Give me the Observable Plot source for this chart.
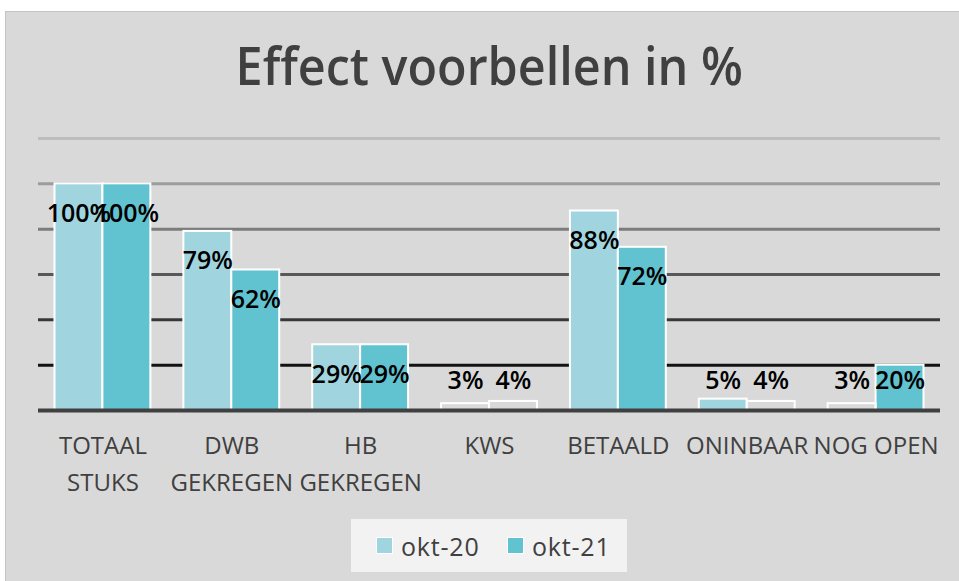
<!DOCTYPE html>
<html>
<head>
<meta charset="utf-8">
<script src="https://cdn.jsdelivr.net/npm/d3@7"></script>
<script src="https://cdn.jsdelivr.net/npm/@observablehq/plot@0.6"></script>
<style>
  html, body { margin: 0; padding: 0; background: #ffffff; }
  body { width: 959px; height: 581px; position: relative; overflow: hidden; font-family: "Open Sans", sans-serif; }
  #frame { position: absolute; left: 5px; top: 11px; width: 954px; height: 570px; background: #d9d9d9; border-top: 1px solid #c4c4c4; border-left: 1px solid #c4c4c4; box-sizing: border-box; }
  #title { position: absolute; left: 0; top: 38px; width: 978px; text-align: center; font-size: 53px; line-height: 1; font-weight: 600; color: #404040; white-space: nowrap; }
  #title span { display: inline-block; transform-origin: center; transform: scaleX(0.915); }
  #chart { position: absolute; left: 0; top: 120px; }
  #legend { position: absolute; left: 351px; top: 519px; width: 276px; height: 53px; background: #f2f2f2; }
  .item { position: absolute; top: 0; height: 53px; display: flex; align-items: center; font-size: 25px; color: #404040; letter-spacing: 0.8px; }
  .sw { width: 15px; height: 15px; border: 1px solid #ffffff; margin-right: 8px; }
</style>
</head>
<body>
<div id="frame"></div>
<div id="title"><span>Effect voorbellen in %</span></div>
<div id="chart"></div>
<div id="legend"></div>
<script>
// ---- data ----
const categories = ["TOTAAL STUKS", "DWB GEKREGEN", "HB GEKREGEN", "KWS", "BETAALD", "ONINBAAR", "NOG OPEN"];
const categoryLabels = ["TOTAAL\nSTUKS", "DWB\nGEKREGEN", "HB\nGEKREGEN", "KWS", "BETAALD", "ONINBAAR", "NOG OPEN"];
const series = ["okt-20", "okt-21"];
const okt20 = [100, 79, 29, 3, 88, 5, 3];
const okt21 = [100, 62, 29, 4, 72, 4, 20];
const yTicks = [20, 40, 60, 80, 100, 120];

// ---- styles ----
const seriesColors = ["#a0d5df", "#62c3d0"];
const gridColors = ["#121212", "#383838", "#585858", "#7c7c7c", "#9c9c9c", "#bdbdbd"];
const groupWidth = 0.744;

const values = [okt20, okt21];
const rows = categories.flatMap((c, i) => series.map((s, k) => ({
  i, category: c, series: s, value: values[k][i],
  x1: i - groupWidth / 2 + k * groupWidth / 2,
  x2: i - groupWidth / 2 + (k + 1) * groupWidth / 2
})));
const filled = rows.filter(d => d.value >= 5);
const empty = rows.filter(d => d.value < 5);
const bigLabels = rows.filter(d => d.value >= 27);
const smallLabels = rows.filter(d => d.value < 27);
const mid = d => (d.x1 + d.x2) / 2;

const chart = Plot.plot({
  width: 959,
  height: 400,
  marginLeft: 38,
  marginRight: 19,
  marginTop: 18,
  marginBottom: 110,
  x: {domain: [-0.5, categories.length - 0.5], axis: null},
  y: {domain: [0, 120], axis: null},
  color: {domain: series, range: seriesColors},
  style: {background: "transparent", fontFamily: "'Open Sans', sans-serif", overflow: "visible"},
  marks: [
    ...yTicks.map((t, j) => Plot.ruleY([t], {stroke: gridColors[j], strokeWidth: 3})),
    Plot.rectY(filled, {x1: "x1", x2: "x2", y: "value", fill: "series", stroke: "#ffffff", strokeWidth: 2}),
    Plot.rectY(empty, {x1: "x1", x2: "x2", y: "value", fill: "none", stroke: "#ffffff", strokeWidth: 2}),
    Plot.ruleY([0], {stroke: "#404040", strokeWidth: 4}),
    Plot.text(bigLabels, {x: mid, y: "value", text: d => d.value + "%", dy: 30, fontSize: 25, fontWeight: 600, fill: "#000000"}),
    Plot.text(smallLabels, {x: mid, y: () => 0, text: d => d.value + "%", dy: -30, fontSize: 25, fontWeight: 600, fill: "#000000"}),
    Plot.text(categories.map((_, i) => i), {x: d => d, y: () => 0, text: i => categoryLabels[i], lineAnchor: "top", dy: 18, lineHeight: 1.52, fontSize: 24, fill: "#404040"})
  ]
});
document.getElementById("chart").appendChild(chart);

// legend
const legend = document.getElementById("legend");
const legendX = [25, 156];
series.forEach((s, k) => {
  const item = document.createElement("div");
  item.className = "item";
  item.style.left = legendX[k] + "px";
  const sw = document.createElement("div");
  sw.className = "sw";
  sw.style.background = seriesColors[k];
  item.appendChild(sw);
  item.appendChild(document.createTextNode(s));
  legend.appendChild(item);
});
</script>
</body>
</html>
